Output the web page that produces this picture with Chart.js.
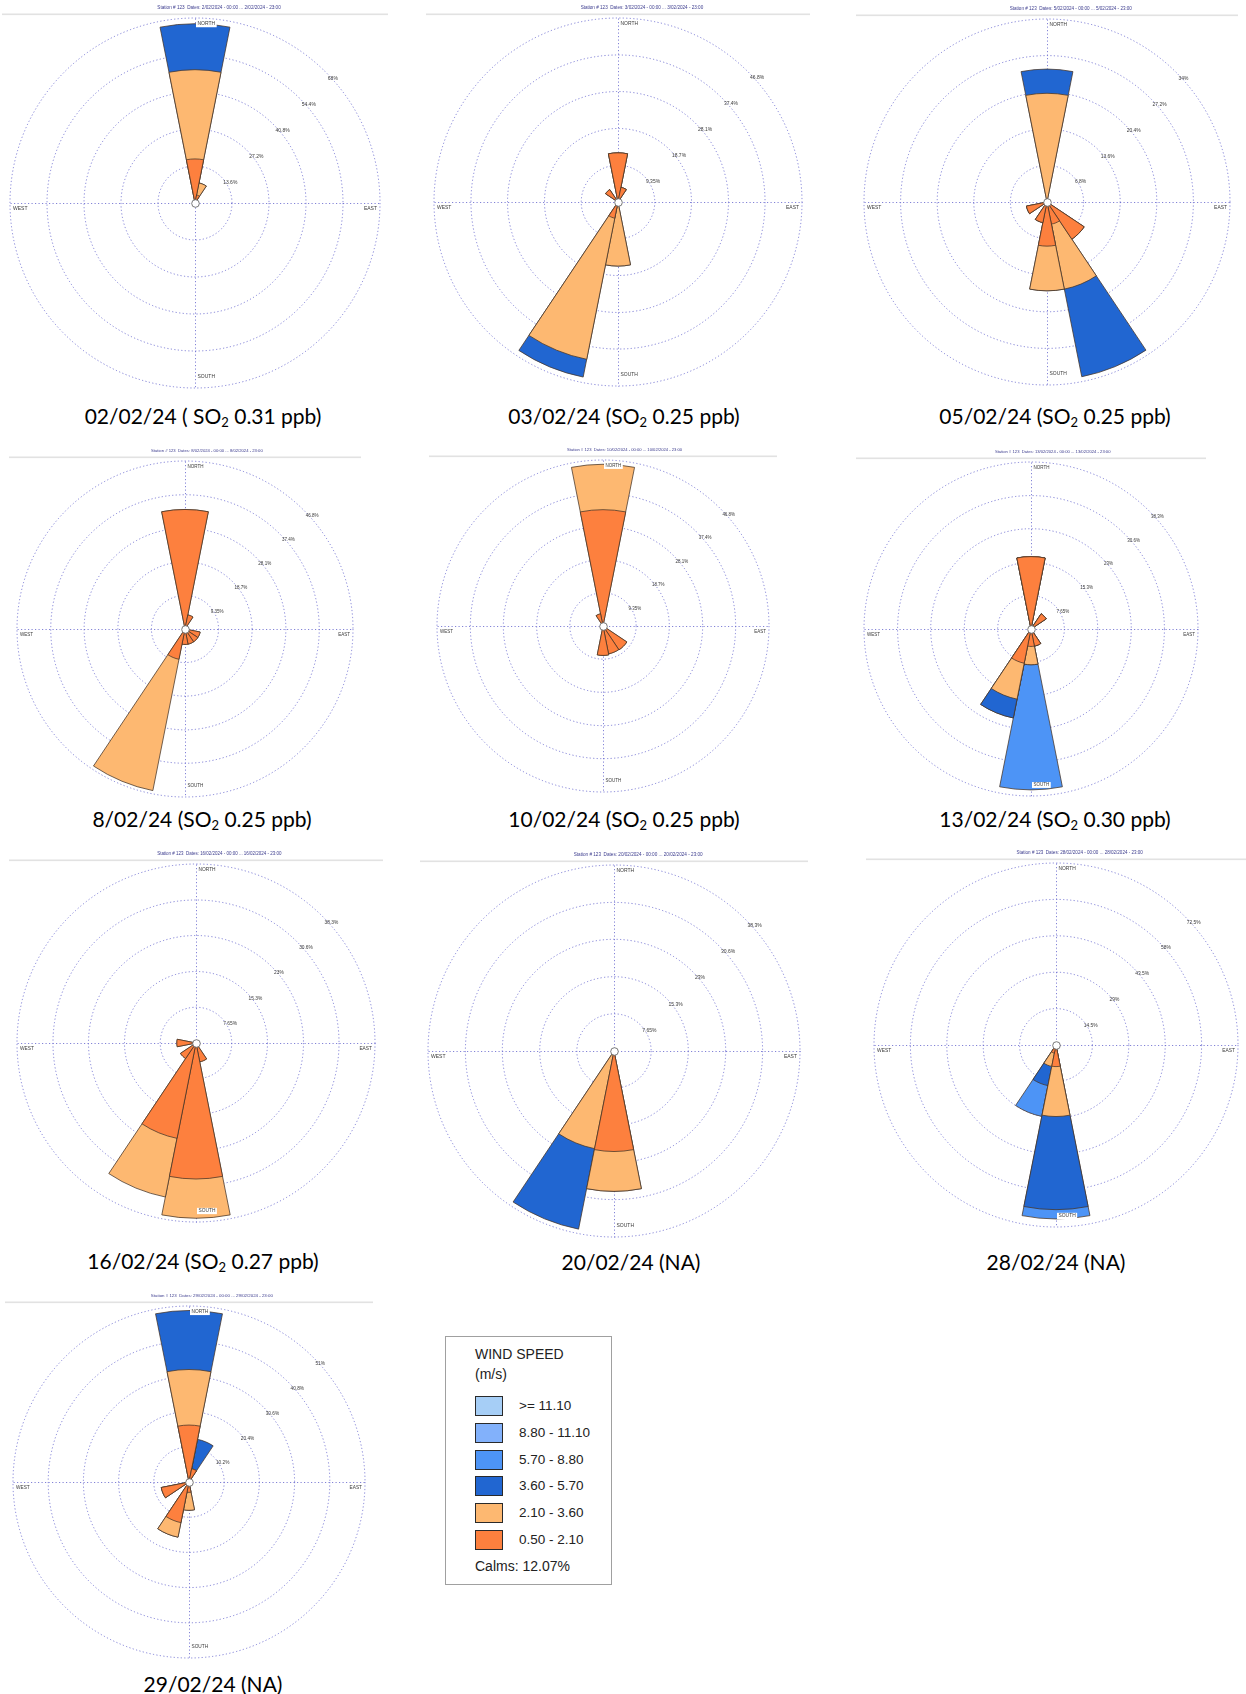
<!DOCTYPE html>
<html>
<head>
<meta charset="utf-8">
<title>Wind roses – February 2024</title>
<script src="https://cdn.jsdelivr.net/npm/chart.js@4/dist/chart.umd.min.js"></script>
<style>
  html, body { margin: 0; padding: 0; background: #fff; }
  body { width: 1246px; height: 1694px; position: relative; overflow: hidden; }
  canvas.rose { position: absolute; }
  .cap { position: absolute; font-family: Lato, "Open Sans", sans-serif; font-size: 21px; color: #000;
         white-space: nowrap; transform: translate(-50%, -50%); line-height: 1; }
  .cap sub { font-size: 0.62em; vertical-align: baseline; position: relative; top: 0.22em; }
  #legend { position: absolute; left: 445px; top: 1336px; width: 167px; height: 249px;
            border: 1.5px solid #a0a0a0; box-sizing: border-box; font-family: "Liberation Sans", Arial, sans-serif; color: #222; }
  #legend .ttl { position: absolute; left: 29px; font-size: 14px; line-height: 1; }
  #legend .sw { position: absolute; left: 29px; width: 28px; height: 20px; box-sizing: border-box; border: 1.5px solid #2a2a2a; }
  #legend .lb { position: absolute; left: 73px; font-size: 13.5px; line-height: 1; }
</style>
</head>
<body>

<div class="cap" style="left:203px;top:416px">02/02/24 ( SO<sub>2</sub> 0.31 ppb)</div>
<div class="cap" style="left:624px;top:416px">03/02/24 (SO<sub>2</sub> 0.25 ppb)</div>
<div class="cap" style="left:1055px;top:416px">05/02/24 (SO<sub>2</sub> 0.25 ppb)</div>
<div class="cap" style="left:202px;top:819px">8/02/24 (SO<sub>2</sub> 0.25 ppb)</div>
<div class="cap" style="left:624px;top:819px">10/02/24 (SO<sub>2</sub> 0.25 ppb)</div>
<div class="cap" style="left:1055px;top:819px">13/02/24 (SO<sub>2</sub> 0.30 ppb)</div>
<div class="cap" style="left:203px;top:1261px">16/02/24 (SO<sub>2</sub> 0.27 ppb)</div>
<div class="cap" style="left:631px;top:1261px">20/02/24 (NA)</div>
<div class="cap" style="left:1056px;top:1261px">28/02/24 (NA)</div>
<div class="cap" style="left:213px;top:1683px">29/02/24 (NA)</div>

<div id="legend"></div>

<script>
// Sixteen compass sectors, clockwise from north
const directions = ['N','NNE','NE','ENE','E','ESE','SE','SSE','S','SSW','SW','WSW','W','WNW','NW','NNW'];

// Wind speed classes (m/s) and their fill colours
const speedClasses = ['0.50 - 2.10', '2.10 - 3.60', '3.60 - 5.70', '5.70 - 8.80', '8.80 - 11.10', '>= 11.10'];
const classColors  = ['#fd803e', '#fdb871', '#2166d1', '#4d94f6', '#82b1fb', '#a6cef6'];
const calmsText = 'Calms: 12.07%';

// Frequency (%) per direction, one array per speed class and day
//                      N     NNE  NE   ENE  E    ESE  SE   SSE  S     SSW   SW   WSW  W    WNW  NW   NNW
const feb02_050_210 = [16.2, 3.0, 0,   0,   0,   0,   0,   0,   0,    0,    0,   0,   0,   0,   0,   0];
const feb02_210_360 = [32.8, 4.5, 0,   0,   0,   0,   0,   0,   0,    0,    0,   0,   0,   0,   0,   0];
const feb02_360_570 = [16.9, 0,   0,   0,   0,   0,   0,   0,   0,    0,    0,   0,   0,   0,   0,   0];
const feb02_rings = [13.6, 27.2, 40.8, 54.4, 68];
const feb02_ringLabels = ['13.6%', '27.2%', '40.8%', '54.4%', '68%'];

const feb03_050_210 = [12.5, 3.8, 0,   0,   0,   0,   0,   0,   0,    4.2,  0,   0,   0,   0,   3.8, 0];
const feb03_210_360 = [0,    0,   0,   0,   0,   0,   0,   0,   16.3, 36.6, 0,   0,   0,   0,   0,   0];
const feb03_360_570 = [0,    0,   0,   0,   0,   0,   0,   0,   0,    4.6,  0,   0,   0,   0,   0,   0];
const feb03_rings = [9.35, 18.7, 28.1, 37.4, 46.8];
const feb03_ringLabels = ['9.35%', '18.7%', '28.1%', '37.4%', '46.8%'];

const feb05_050_210 = [0,    0,   0,   0,   0,   0,   8.3, 4.2, 8.2,  3.9,  0,   3.9, 0,   0,   0,   0];
const feb05_210_360 = [20.2, 0,   0,   0,   0,   0,   0,   12.3, 8.3, 0,    0,   0,   0,   0,   0,   0];
const feb05_360_570 = [4.5,  0,   0,   0,   0,   0,   0,   16.6, 0,   0,    0,   0,   0,   0,   0,   0];
const feb05_rings = [6.8, 13.6, 20.4, 27.2, 34];
const feb05_ringLabels = ['6.8%', '13.6%', '20.4%', '27.2%', '34%'];

const feb08_050_210 = [33.3, 4.0, 0,   0,   0,   4.3, 4.3, 4.3, 4.3,  8.6,  0,   0,   0,   0,   0,   0];
const feb08_210_360 = [0,    0,   0,   0,   0,   0,   0,   0,   0,    37.3, 0,   0,   0,   0,   0,   0];
const feb08_rings = [9.35, 18.7, 28.1, 37.4, 46.8];
const feb08_ringLabels = ['9.35%', '18.7%', '28.1%', '37.4%', '46.8%'];

const feb10_050_210 = [32.8, 0,   0,   0,   0,   0,   8.1, 8.0, 8.3,  0,    0,   0,   0,   0,   0,   3.5];
const feb10_210_360 = [12.8, 0,   0,   0,   0,   0,   0,   0,   0,    0,    0,   0,   0,   0,   0,   0];
const feb10_rings = [9.35, 18.7, 28.1, 37.4, 46.8];
const feb10_ringLabels = ['9.35%', '18.7%', '28.1%', '37.4%', '46.8%'];

const feb13_050_210 = [16.6, 0,   4.2, 0,   0,   0,   0,   4.0, 4.0,  8.0,  0,   0,   0,   0,   0,   0];
const feb13_210_360 = [0,    0,   0,   0,   0,   0,   0,   0,   4.2,  8.4,  0,   0,   0,   0,   0,   0];
const feb13_360_570 = [0,    0,   0,   0,   0,   0,   0,   0,   0,    4.4,  0,   0,   0,   0,   0,   0];
const feb13_570_880 = [0,    0,   0,   0,   0,   0,   0,   0,   28.7, 0,    0,   0,   0,   0,   0,   0];
const feb13_rings = [7.65, 15.3, 23, 30.6, 38.3];
const feb13_ringLabels = ['7.65%', '15.3%', '23%', '30.6%', '38.3%'];

const feb16_050_210 = [0,    0,   0,   0,   0,   0,   0,   4.1, 29.1, 20.8, 4.0, 0,   4.1, 0,   0,   0];
const feb16_210_360 = [0,    0,   0,   0,   0,   0,   0,   0,   8.4,  12.8, 0,   0,   0,   0,   0,   0];
const feb16_rings = [7.65, 15.3, 23, 30.6, 38.3];
const feb16_ringLabels = ['7.65%', '15.3%', '23%', '30.6%', '38.3%'];

const feb20_050_210 = [0,    0,   0,   0,   0,   0,   0,   0,   20.7, 0,    0,   0,   0,   0,   0,   0];
const feb20_210_360 = [0,    0,   0,   0,   0,   0,   0,   0,   8.2,  20.5, 0,   0,   0,   0,   0,   0];
const feb20_360_570 = [0,    0,   0,   0,   0,   0,   0,   0,   0,    16.9, 0,   0,   0,   0,   0,   0];
const feb20_rings = [7.65, 15.3, 23, 30.6, 38.3];
const feb20_ringLabels = ['7.65%', '15.3%', '23%', '30.6%', '38.3%'];

const feb28_050_210 = [0,    0,   0,   0,   0,   0,   0,   0,   8.6,  3.3,  0,   0,   0,   0,   0,   0];
const feb28_210_360 = [0,    0,   0,   0,   0,   0,   0,   0,   19.9, 5.4,  0,   0,   0,   0,   0,   0];
const feb28_360_570 = [0,    0,   0,   0,   0,   0,   0,   0,   37.1, 7.8,  0,   0,   0,   0,   0,   0];
const feb28_570_880 = [0,    0,   0,   0,   0,   0,   0,   0,   3.7,  12.5, 0,   0,   0,   0,   0,   0];
const feb28_rings = [14.5, 29, 43.5, 58, 72.5];
const feb28_ringLabels = ['14.5%', '29%', '43.5%', '58%', '72.5%'];

const feb29_050_210 = [16.5, 3.9, 0,   0,   0,   0,   0,   0,   3.0,  12.0, 0,   8.2, 0,   0,   0,   0];
const feb29_210_360 = [16.1, 0,   0,   0,   0,   0,   0,   0,   5.2,  4.3,  0,   0,   0,   0,   0,   0];
const feb29_360_570 = [17.1, 8.7, 0,   0,   0,   0,   0,   0,   0,    0,    0,   0,   0,   0,   0,   0];
const feb29_rings = [10.2, 20.4, 30.6, 40.8, 51];
const feb29_ringLabels = ['10.2%', '20.4%', '30.6%', '40.8%', '51%'];

// One entry per rose: period shown in the header and the speed-class series it holds
const roses = [
  { date: '2/02/2024',  rings: feb02_rings, ringLabels: feb02_ringLabels, series: [feb02_050_210, feb02_210_360, feb02_360_570] },
  { date: '3/02/2024',  rings: feb03_rings, ringLabels: feb03_ringLabels, series: [feb03_050_210, feb03_210_360, feb03_360_570] },
  { date: '5/02/2024',  rings: feb05_rings, ringLabels: feb05_ringLabels, series: [feb05_050_210, feb05_210_360, feb05_360_570] },
  { date: '8/02/2024',  rings: feb08_rings, ringLabels: feb08_ringLabels, series: [feb08_050_210, feb08_210_360] },
  { date: '10/02/2024', rings: feb10_rings, ringLabels: feb10_ringLabels, series: [feb10_050_210, feb10_210_360] },
  { date: '13/02/2024', rings: feb13_rings, ringLabels: feb13_ringLabels, series: [feb13_050_210, feb13_210_360, feb13_360_570, feb13_570_880] },
  { date: '16/02/2024', rings: feb16_rings, ringLabels: feb16_ringLabels, series: [feb16_050_210, feb16_210_360] },
  { date: '20/02/2024', rings: feb20_rings, ringLabels: feb20_ringLabels, series: [feb20_050_210, feb20_210_360, feb20_360_570] },
  { date: '28/02/2024', rings: feb28_rings, ringLabels: feb28_ringLabels, series: [feb28_050_210, feb28_210_360, feb28_360_570, feb28_570_880] },
  { date: '29/02/2024', rings: feb29_rings, ringLabels: feb29_ringLabels, series: [feb29_050_210, feb29_210_360, feb29_360_570] }
];

// Page placement of each rose: centre and outer ring radius (px)
const placement = [
  { cx: 195,  cy: 203,  R: 185 },
  { cx: 618,  cy: 202,  R: 184 },
  { cx: 1047, cy: 202,  R: 183 },
  { cx: 185,  cy: 629,  R: 168 },
  { cx: 603,  cy: 626,  R: 166 },
  { cx: 1031, cy: 629,  R: 167 },
  { cx: 196,  cy: 1043, R: 179 },
  { cx: 614,  cy: 1051, R: 186 },
  { cx: 1056, cy: 1045, R: 182 },
  { cx: 189,  cy: 1482, R: 176 }
];

const PAD = 16, PAD_TOP = 18;
const GRID = 'rgba(100, 100, 205, 0.8)';
const EDGE = 'rgba(70, 52, 40, 0.85)';

// Compass cross, calm circle, ring/compass labels and the station header
const roseDecor = {
  id: 'roseDecor',
  beforeDatasetsDraw(chart) {
    const s = chart.scales.r, ctx = chart.ctx;
    const cx = s.xCenter + 0.5, cy = s.yCenter + 0.5, R = s.drawingArea;
    ctx.save();
    ctx.strokeStyle = GRID;
    ctx.lineWidth = 1;
    ctx.setLineDash([1.2, 2.3]);
    ctx.beginPath();
    ctx.moveTo(cx - R, cy); ctx.lineTo(cx + R, cy);
    ctx.moveTo(cx, cy - R); ctx.lineTo(cx, cy + R);
    ctx.stroke();
    ctx.restore();
  },
  afterDatasetsDraw(chart, args, opts) {
    const s = chart.scales.r, ctx = chart.ctx;
    const cx = s.xCenter, cy = s.yCenter, R = s.drawingArea;
    const fs = R * 0.027;
    ctx.save();
    ctx.font = fs.toFixed(2) + 'px "Liberation Sans", Arial, sans-serif';
    ctx.textBaseline = 'middle';

    // ring labels along the north-east diagonal
    ctx.fillStyle = '#3a3a3a';
    ctx.textAlign = 'left';
    opts.rings.forEach((v, i) => {
      const r = s.getDistanceFromCenterForValue(v);
      const a = Math.PI / 4;
      ctx.fillText(opts.ringLabels[i], cx + r * Math.cos(a) + 2, cy - r * Math.sin(a) + 6);
    });

    // compass labels on a white backing
    const tag = (txt, x, y, align) => {
      const w = ctx.measureText(txt).width;
      const x0 = align === 'right' ? x - w : x;
      ctx.fillStyle = '#fff';
      ctx.fillRect(x0 - 1.5, y - fs * 0.65, w + 3, fs * 1.3);
      ctx.fillStyle = '#3a3a3a';
      ctx.textAlign = 'left';
      ctx.fillText(txt, x0, y);
    };
    tag('NORTH', cx + 2.5, cy - R + 6, 'left');
    tag('SOUTH', cx + 2.5, cy + R - 11, 'left');
    tag('EAST', cx + R - 3, cy + 6, 'right');
    tag('WEST', cx - R + 3, cy + 6, 'left');

    // calm circle
    ctx.beginPath();
    ctx.arc(cx + 0.5, cy + 0.5, 3.8, 0, Math.PI * 2);
    ctx.fillStyle = '#fff';
    ctx.fill();
    ctx.lineWidth = 0.9;
    ctx.strokeStyle = '#6a6a6a';
    ctx.stroke();

    // station header and rule
    ctx.fillStyle = '#e2e2e2';
    ctx.fillRect(cx - R - 8, cy - R - 4.5, 2 * R + 16, 1.6);
    ctx.fillStyle = '#3c3c8e';
    ctx.textAlign = 'center';
    ctx.font = (R * 0.025).toFixed(2) + 'px "Liberation Sans", Arial, sans-serif';
    ctx.fillText('Station # 123  Dates: ' + opts.date + ' - 00:00 ... ' + opts.date + ' - 23:00',
                 cx + 0.13 * R, cy - R - 10);
    ctx.restore();
  }
};

roses.forEach((rose, k) => {
  const p = placement[k];
  const cv = document.createElement('canvas');
  cv.className = 'rose';
  cv.width = 2 * p.R + 2 * PAD;
  cv.height = 2 * p.R + PAD_TOP + PAD;
  cv.style.left = (p.cx - p.R - PAD) + 'px';
  cv.style.top = (p.cy - p.R - PAD_TOP) + 'px';
  document.body.appendChild(cv);

  // stack the speed classes: each dataset reaches the running total of its class
  let running = directions.map(() => 0);
  const datasets = rose.series.map((vals, c) => {
    running = running.map((t, i) => t + vals[i]);
    return {
      label: speedClasses[c],
      data: running.slice(),
      backgroundColor: classColors[c],
      borderColor: EDGE,
      borderWidth: 0.9
    };
  });
  const maxRing = rose.rings[rose.rings.length - 1];

  new Chart(cv, {
    type: 'polarArea',
    data: { labels: directions, datasets },
    options: {
      responsive: false,
      animation: false,
      layout: { padding: { top: PAD_TOP, left: PAD, right: PAD, bottom: PAD } },
      plugins: {
        legend: { display: false },
        tooltip: { enabled: false },
        roseDecor: { rings: rose.rings, ringLabels: rose.ringLabels, date: rose.date }
      },
      scales: {
        r: {
          min: 0,
          max: maxRing,
          startAngle: -11.25,
          ticks: { display: false },
          afterBuildTicks: (scale) => { scale.ticks = [0].concat(rose.rings).map(v => ({ value: v })); },
          grid: { circular: true, color: GRID, lineWidth: 1 },
          border: { dash: [1.2, 2.3] },
          angleLines: { display: false },
          pointLabels: { display: false }
        }
      }
    },
    plugins: [roseDecor]
  });
});

// Legend: strongest class on top
const legend = document.getElementById('legend');
const addEl = (cls, txt, top, bg) => {
  const d = document.createElement('div');
  d.className = cls;
  d.style.top = top + 'px';
  if (txt) d.textContent = txt;
  if (bg) d.style.background = bg;
  legend.appendChild(d);
};
addEl('ttl', 'WIND SPEED', 10);
addEl('ttl', '(m/s)', 30);
speedClasses.slice().reverse().forEach((lbl, i) => {
  const c = classColors[speedClasses.length - 1 - i];
  const y = 59 + i * 26.8;
  addEl('sw', null, y, c);
  addEl('lb', lbl, y + 3);
});
addEl('ttl', calmsText, 222);
</script>
</body>
</html>
